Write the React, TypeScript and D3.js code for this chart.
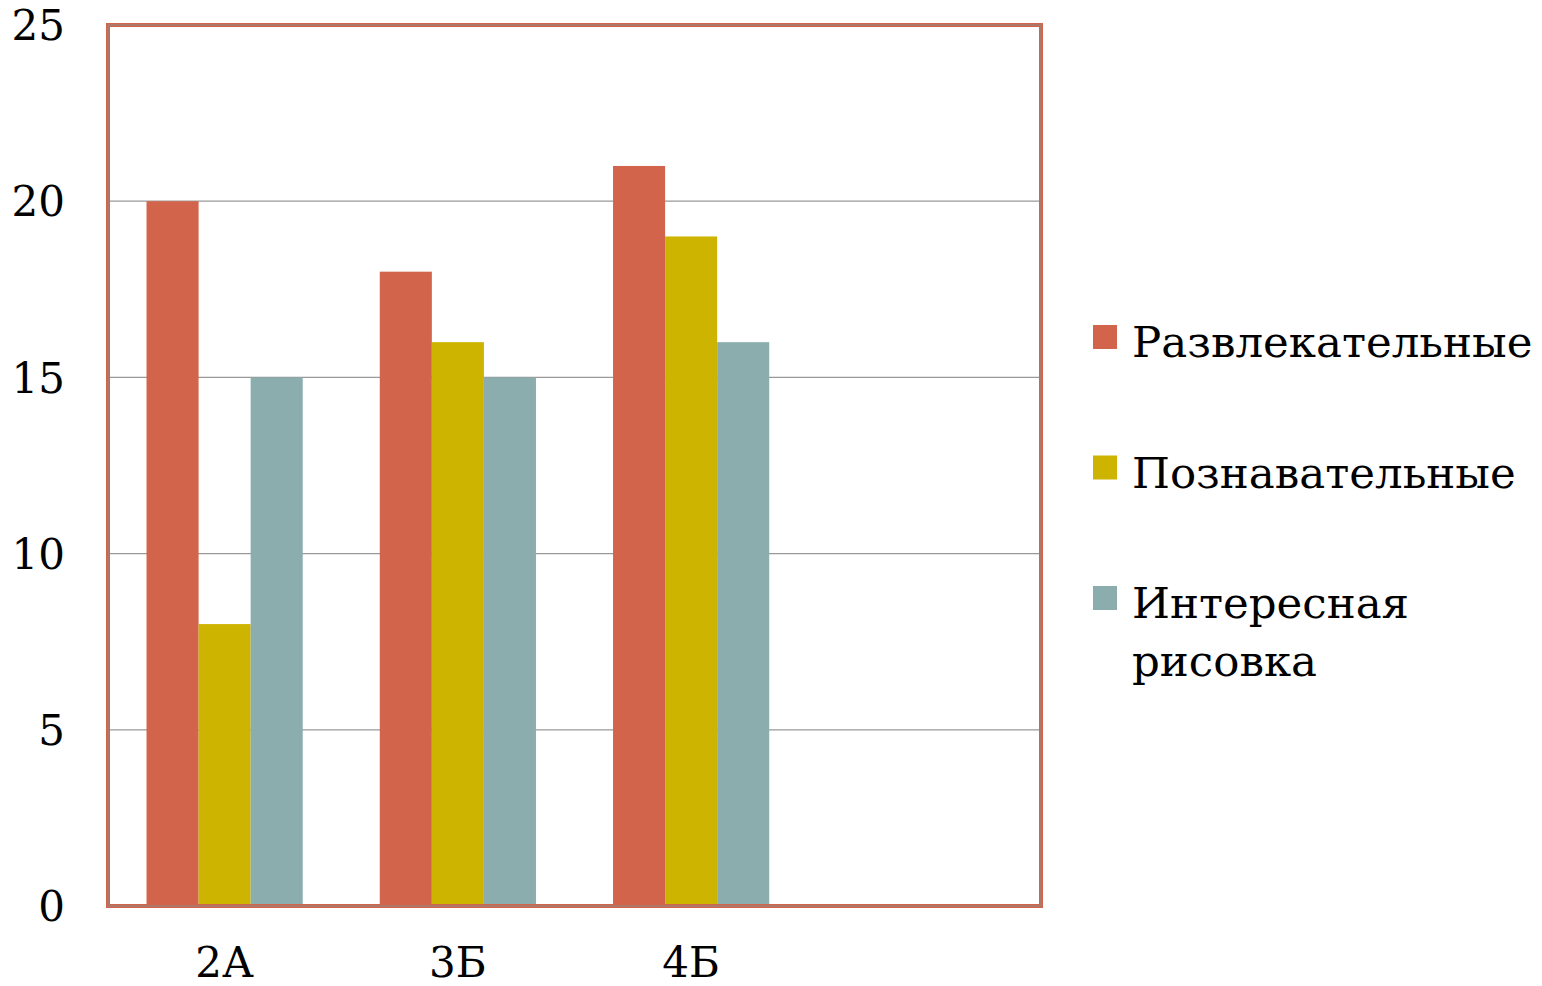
import React from "react";
import * as d3 from "d3";

const categories = ["2А", "3Б", "4Б", ""];
const seriesNames = ["Развлекательные", "Познавательные", "Интересная рисовка"];
const seriesColors = ["#D1644A", "#CDB400", "#8CADAE"];
const razvlek = [20, 18, 21];
const poznav = [8, 16, 19];
const risovka = [15, 15, 16];
const yTicks = [0, 5, 10, 15, 20, 25];

const series = [razvlek, poznav, risovka];

export default function App() {
  const W = 1542, H = 986;
  const left = 108, right = 1041, top = 25, bottom = 906;
  const x = d3.scaleBand().domain(categories.map((c, i) => String(i))).range([left, right]);
  const inner = d3.scaleBand().domain(["0", "1", "2"]).range([0, x.bandwidth()]).paddingOuter(0.74).paddingInner(0);
  const y = d3.scaleLinear().domain([0, 25]).range([bottom, top]);
  const font = "'DejaVu Serif', serif";
  return (
    <svg width={W} height={H} style={{ position: "absolute", left: 0, top: 0 }} fontFamily={font}>
      <rect x={0} y={0} width={W} height={H} fill="#fff" />
      {yTicks.filter(t => t > 0 && t < 25).map(t => (
        <line key={t} x1={left} x2={right} y1={y(t)} y2={y(t)} stroke="#999" strokeWidth={1.2} />
      ))}
      {series.map((vals, si) =>
        vals.map((v, ci) => (
          <rect key={si + "-" + ci}
            x={(x(String(ci)) as number) + (inner(String(si)) as number)}
            y={y(v)} width={inner.bandwidth()} height={y(0) - y(v)} fill={seriesColors[si]} />
        ))
      )}
      <rect x={left} y={top} width={right - left} height={bottom - top} fill="none" stroke="#D1644A" strokeWidth={4} />
      <rect x={left} y={top} width={right - left} height={bottom - top} fill="none" stroke="#8a8a8a" strokeWidth={1} />
      {yTicks.map(t => (
        <text key={t} x={65} y={y(t)} dy="0.36em" textAnchor="end" fontSize={42} fill="#000">{t}</text>
      ))}
      {categories.map((c, i) => (
        <text key={i} x={(x(String(i)) as number) + x.bandwidth() / 2} y={962} dy="0.36em" textAnchor="middle" fontSize={42} fill="#000">{c}</text>
      ))}
      {seriesNames.map((n, i) => {
        const cy = 337 + i * 130.5;
        const words = i === 2 ? ["Интересная", "рисовка"] : [n];
        return (
          <g key={n}>
            <rect x={1093} y={cy - 12} width={24} height={24} fill={seriesColors[i]} />
            {words.map((w, k) => (
              <text key={k} x={1132} y={cy + 20 + k * 58} fontSize={43.5} fill="#000">{w}</text>
            ))}
          </g>
        );
      })}
    </svg>
  );
}
